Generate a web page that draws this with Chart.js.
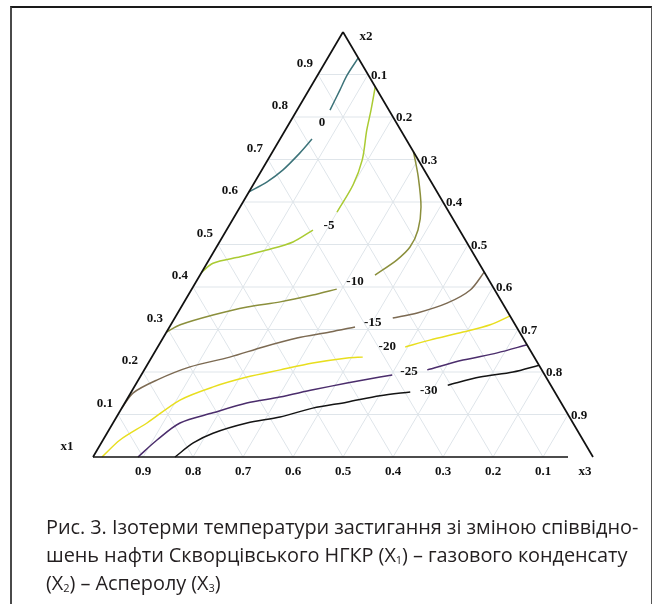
<!DOCTYPE html>
<html>
<head>
<meta charset="utf-8">
<script src="https://cdn.jsdelivr.net/npm/chart.js"></script>
<style>
  body { margin: 0; background: #fff; }
  #frame { position: absolute; left: 10px; top: 6px; width: 639px; height: 620px;
           border-top: 2px solid #1a1a1a; border-left: 2px solid #4a4a4a; border-right: 1px solid #555; }
  #c { position: absolute; left: 0; top: 0; }
  #caption { position: absolute; left: 46px; top: 513px; font-family: "Open Sans"; font-size: 19.9px;
             line-height: 28px; color: #231f20; white-space: nowrap; letter-spacing: -0.05px; }
  #caption sub { font-size: 11px; vertical-align: -2px; line-height: 0; }
</style>
</head>
<body>
<div id="frame"></div>
<canvas id="c" width="659" height="604"></canvas>
<div id="caption">Рис. 3. Ізотерми температури застигання зі зміною співвідно-<br>шень нафти Скворцівського НГКР (X<sub>1</sub>) – газового конденсату<br>(X<sub>2</sub>) – Асперолу (X<sub>3</sub>)</div>
<script>
// tick values along each side of the triangle
const tickValues = [0.1, 0.2, 0.3, 0.4, 0.5, 0.6, 0.7, 0.8, 0.9];
const tickLabels = ['0.1', '0.2', '0.3', '0.4', '0.5', '0.6', '0.7', '0.8', '0.9'];
const vertexNames = ['x1', 'x2', 'x3'];

// isotherm levels and colours
const levels = ['0', '-5', '-10', '-15', '-20', '-25', '-30'];
const levelColors = ['#3c7379', '#aacb32', '#8b8f3c', '#7c6a52', '#e8de1e', '#4b2d6c', '#141414'];

// contour pieces as [x2, x3] compositions (x1 = 1 - x2 - x3)
const iso0a = [[0.939, 0.061], [0.899, 0.059], [0.864, 0.062], [0.816, 0.066]];
const iso0b = [[0.748, 0.064], [0.715, 0.056], [0.675, 0.042], [0.647, 0.024], [0.624, 0]];
const iso5a = [[0.871, 0.129], [0.816, 0.148], [0.769, 0.163], [0.699, 0.189], [0.64, 0.2], [0.576, 0.2]];
const iso5b = [[0.534, 0.173], [0.506, 0.147], [0.487, 0.104], [0.471, 0.059], [0.456, 0.012], [0.435, 0]];
const iso10a = [[0.294, 0], [0.311, 0.019], [0.334, 0.073], [0.353, 0.132], [0.365, 0.192], [0.381, 0.249], [0.395, 0.29]];
const iso10b = [[0.428, 0.35], [0.464, 0.376], [0.494, 0.387], [0.534, 0.383], [0.588, 0.362], [0.659, 0.321], [0.718, 0.282]];
const iso15a = [[0.115, 0], [0.151, 0.005], [0.181, 0.037], [0.212, 0.088], [0.235, 0.156], [0.259, 0.211], [0.28, 0.268], [0.294, 0.327], [0.306, 0.371]];
const iso15b = [[0.327, 0.436], [0.339, 0.479], [0.362, 0.527], [0.393, 0.558], [0.435, 0.565]];
const iso20a = [[0, 0.018], [0.04, 0.034], [0.08, 0.068], [0.134, 0.107], [0.165, 0.158], [0.188, 0.214], [0.205, 0.272], [0.221, 0.329], [0.233, 0.392], [0.235, 0.422]];
const iso20b = [[0.259, 0.495], [0.275, 0.536], [0.294, 0.593], [0.311, 0.639], [0.332, 0.668]];
const iso25a = [[0, 0.09], [0.04, 0.108], [0.08, 0.134], [0.104, 0.188], [0.127, 0.244], [0.141, 0.303], [0.158, 0.361], [0.174, 0.421], [0.188, 0.48], [0.193, 0.502]];
const iso25b = [[0.205, 0.566], [0.228, 0.626], [0.245, 0.686], [0.264, 0.736]];
const iso30a = [[0, 0.164], [0.033, 0.184], [0.056, 0.212], [0.08, 0.268], [0.094, 0.327], [0.115, 0.382], [0.129, 0.443], [0.144, 0.502], [0.153, 0.558]];
const iso30b = [[0.169, 0.625], [0.188, 0.68], [0.2, 0.74], [0.216, 0.784]];
const isoPieces = [[iso0a, iso0b], [iso5a, iso5b], [iso10a, iso10b], [iso15a, iso15b], [iso20a, iso20b], [iso25a, iso25b], [iso30a, iso30b]];

// where the level labels sit, [x2, x3]
const levelLabelPos = [[0.786, 0.065], [0.544, 0.2], [0.412, 0.318], [0.315, 0.402], [0.259, 0.459], [0.2, 0.532], [0.155, 0.594]];

// ternary -> cartesian (side = 1, y measured in x2 units)
const toXY = ([x2, x3]) => ({ x: x3 + x2 / 2, y: x2 });

const datasets = [];
const line = (pts, color, width, order, tension) => datasets.push({
  data: pts.map(toXY), borderColor: color, borderWidth: width, showLine: true,
  pointRadius: 0, fill: false, tension: tension || 0, order: order, clip: false
});

// grid
tickValues.forEach(v => {
  line([[v, 0], [v, 1 - v]], '#dfe5ea', 1, 3);          // x2 = v
  line([[0, v], [1 - v, v]], '#dfe5ea', 1, 3);          // x3 = v
  line([[0, 1 - v], [1 - v, 0]], '#dfe5ea', 1, 3);      // x1 = v
});

// triangle sides
line([[0, 0], [1, 0]], '#111', 1.7, 1);
line([[1, 0], [0, 1]], '#111', 1.7, 1);
line([[0, 0], [0, 0.95]], '#111', 1.7, 1);

// isotherms
isoPieces.forEach((pieces, i) => pieces.forEach(p => line(p, levelColors[i], 1.5, 2, 0.3)));

const textPlugin = {
  id: 'ternaryText',
  afterDatasetsDraw(chart) {
    const { ctx, scales: { x, y } } = chart;
    const at = c => { const p = toXY(c); return [x.getPixelForValue(p.x), y.getPixelForValue(p.y)]; };
    ctx.save();
    ctx.fillStyle = '#111';
    ctx.font = 'bold 13px "Liberation Serif"';
    ctx.textBaseline = 'middle';
    tickValues.forEach((v, i) => {
      // bottom: x1
      let [px, py] = at([0, 1 - v]);
      ctx.textAlign = 'center';
      ctx.fillText(tickLabels[i], px, py + 15);
      // left: x2
      [px, py] = at([v, 0]);
      ctx.textAlign = 'right';
      ctx.fillText(tickLabels[i], px - 5, py - 11);
      // right: x3
      [px, py] = at([1 - v, v]);
      ctx.textAlign = 'left';
      ctx.fillText(tickLabels[i], px + 3, py + 1);
    });
    let [px, py] = at([0, 0]);
    ctx.textAlign = 'center';
    ctx.fillText(vertexNames[0], px - 26, py - 10);
    [px, py] = at([1, 0]);
    ctx.fillText(vertexNames[1], px + 23, py + 5);
    [px, py] = at([0, 1]);
    ctx.fillText(vertexNames[2], px - 8, py + 15);
    levels.forEach((lv, i) => {
      const [lx, ly] = at(levelLabelPos[i]);
      ctx.fillText(lv, lx, ly);
    });
    ctx.restore();
  }
};

new Chart(document.getElementById('c'), {
  type: 'scatter',
  data: { datasets: datasets },
  options: {
    responsive: false,
    animation: false,
    events: [],
    layout: { padding: { left: 93, right: 66, top: 32, bottom: 147 } },
    scales: {
      x: { type: 'linear', min: 0, max: 1, display: false },
      y: { type: 'linear', min: 0, max: 1, display: false }
    },
    plugins: { legend: { display: false }, tooltip: { enabled: false } }
  },
  plugins: [textPlugin]
});
</script>
</body>
</html>
